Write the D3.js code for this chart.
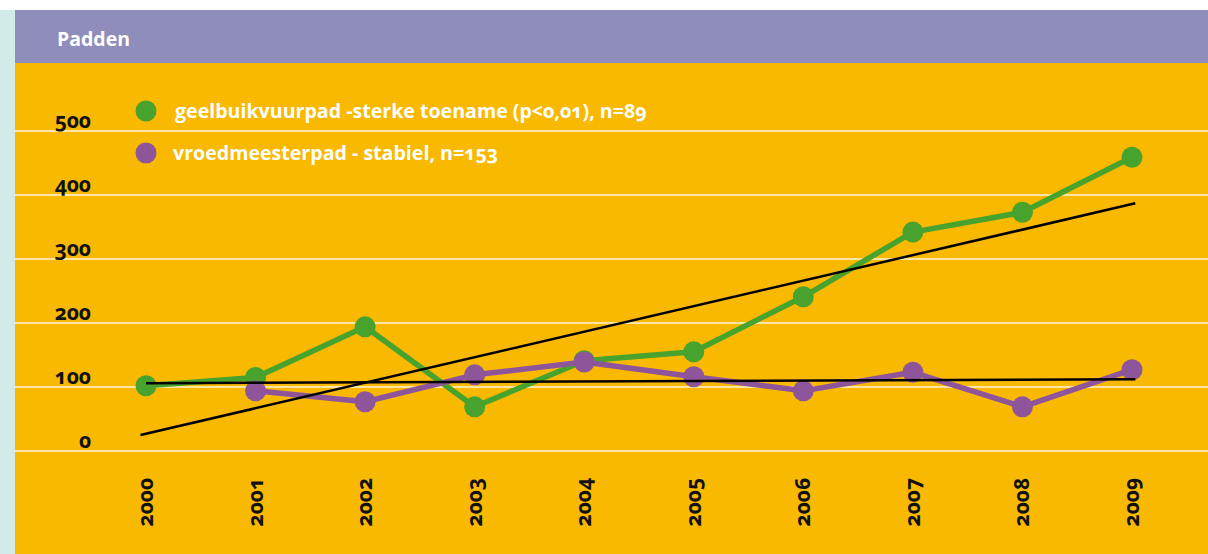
<!DOCTYPE html>
<html>
<head>
<meta charset="utf-8">
<script src="https://cdn.jsdelivr.net/npm/d3@7"></script>
<style>
  body { margin: 0; background: #fff; }
  svg { display: block; font-family: "Open Sans", "Noto Sans", sans-serif; }
  .onum { font-variant-numeric: oldstyle-nums; font-feature-settings: "onum" 1; }
</style>
</head>
<body>
<svg id="chart" width="1208" height="554"></svg>
<script>
// chart data
const years = [2000, 2001, 2002, 2003, 2004, 2005, 2006, 2007, 2008, 2009];
const geelbuik = [102, 115, 194, 69, 141, 155, 241, 342, 373, 459];
const vroedmeester = [null, 94, 77, 119, 139, 116, 94, 123, 69, 127];
const geelbuikTrend = [[1999.95, 25], [2009.03, 387]];
const vroedmeesterTrend = [[2000, 106], [2009.03, 112]];
const yTicks = [0, 100, 200, 300, 400, 500];
const legendLabels = [
  "geelbuikvuurpad -sterke toename (p<0,01), n=89",
  "vroedmeesterpad - stabiel, n=153"
];
const title = "Padden";

const colors = { green: "#47a22e", purple: "#8e559a" };

const svg = d3.select("#chart");
const W = 1208, H = 554;

// background panels
svg.append("rect").attr("x", 0).attr("y", 10).attr("width", 15).attr("height", H - 10).attr("fill", "#d3ebe8");
svg.append("rect").attr("x", 15).attr("y", 10).attr("width", W - 15).attr("height", 53).attr("fill", "#8e8dbb");
svg.append("rect").attr("x", 15).attr("y", 63).attr("width", W - 15).attr("height", H - 63).attr("fill", "#f9b900");

svg.append("text")
  .attr("x", 57).attr("y", 46)
  .attr("fill", "#fff")
  .attr("font-size", 19.5).attr("font-weight", 700)
  .text(title);

const x = d3.scaleLinear().domain([2000, 2009]).range([146, 1132]);
const y = d3.scaleLinear().domain([0, 500]).range([451, 131]);

// gridlines + y labels
const yAxis = svg.append("g");
yAxis.selectAll("line").data(yTicks).join("line")
  .attr("x1", 15).attr("x2", W)
  .attr("y1", d => y(d)).attr("y2", d => y(d))
  .attr("stroke", "#fff").attr("stroke-opacity", 0.85).attr("stroke-width", 1.4);
yAxis.selectAll("text").data(yTicks).join("text")
  .attr("class", "onum")
  .attr("x", 91).attr("y", d => y(d) - 3)
  .attr("text-anchor", "end")
  .attr("font-size", 21).attr("font-weight", 700)
  .attr("fill", "#111")
  .text(d => d);

// x labels, rotated
svg.append("g").selectAll("text").data(years).join("text")
  .attr("class", "onum")
  .attr("transform", d => `translate(${x(d) + 7},478) rotate(-90)`)
  .attr("text-anchor", "end")
  .attr("font-size", 21).attr("font-weight", 700)
  .attr("fill", "#111")
  .text(d => d);

const line = d3.line()
  .defined(d => d[1] != null)
  .x(d => x(d[0])).y(d => y(d[1]));

function drawSeries(values, color) {
  const pts = years.map((yr, i) => [yr, values[i]]);
  svg.append("path")
    .datum(pts)
    .attr("fill", "none")
    .attr("stroke", color)
    .attr("stroke-width", 5.5)
    .attr("stroke-linejoin", "round")
    .attr("d", line);
  svg.append("g").selectAll("circle")
    .data(pts.filter(p => p[1] != null))
    .join("circle")
    .attr("cx", d => x(d[0])).attr("cy", d => y(d[1]))
    .attr("r", 10.5)
    .attr("fill", color);
}

drawSeries(geelbuik, colors.green);
drawSeries(vroedmeester, colors.purple);

// trend lines on top
[geelbuikTrend, vroedmeesterTrend].forEach(t => {
  svg.append("path")
    .datum(t)
    .attr("fill", "none")
    .attr("stroke", "#000")
    .attr("stroke-width", 2.5)
    .attr("d", line);
});

// legend
const legend = svg.append("g");
const legendColors = [colors.green, colors.purple];
legendLabels.forEach((label, i) => {
  const ly = 111 + i * 42;
  legend.append("circle").attr("cx", 146).attr("cy", ly).attr("r", 10.5).attr("fill", legendColors[i]);
  legend.append("text")
    .attr("class", "onum")
    .attr("x", 175 - i * 2).attr("y", ly + 7)
    .attr("fill", "#fff")
    .attr("font-size", 19.6).attr("font-weight", 700)
    .text(label);
});
</script>
</body>
</html>
